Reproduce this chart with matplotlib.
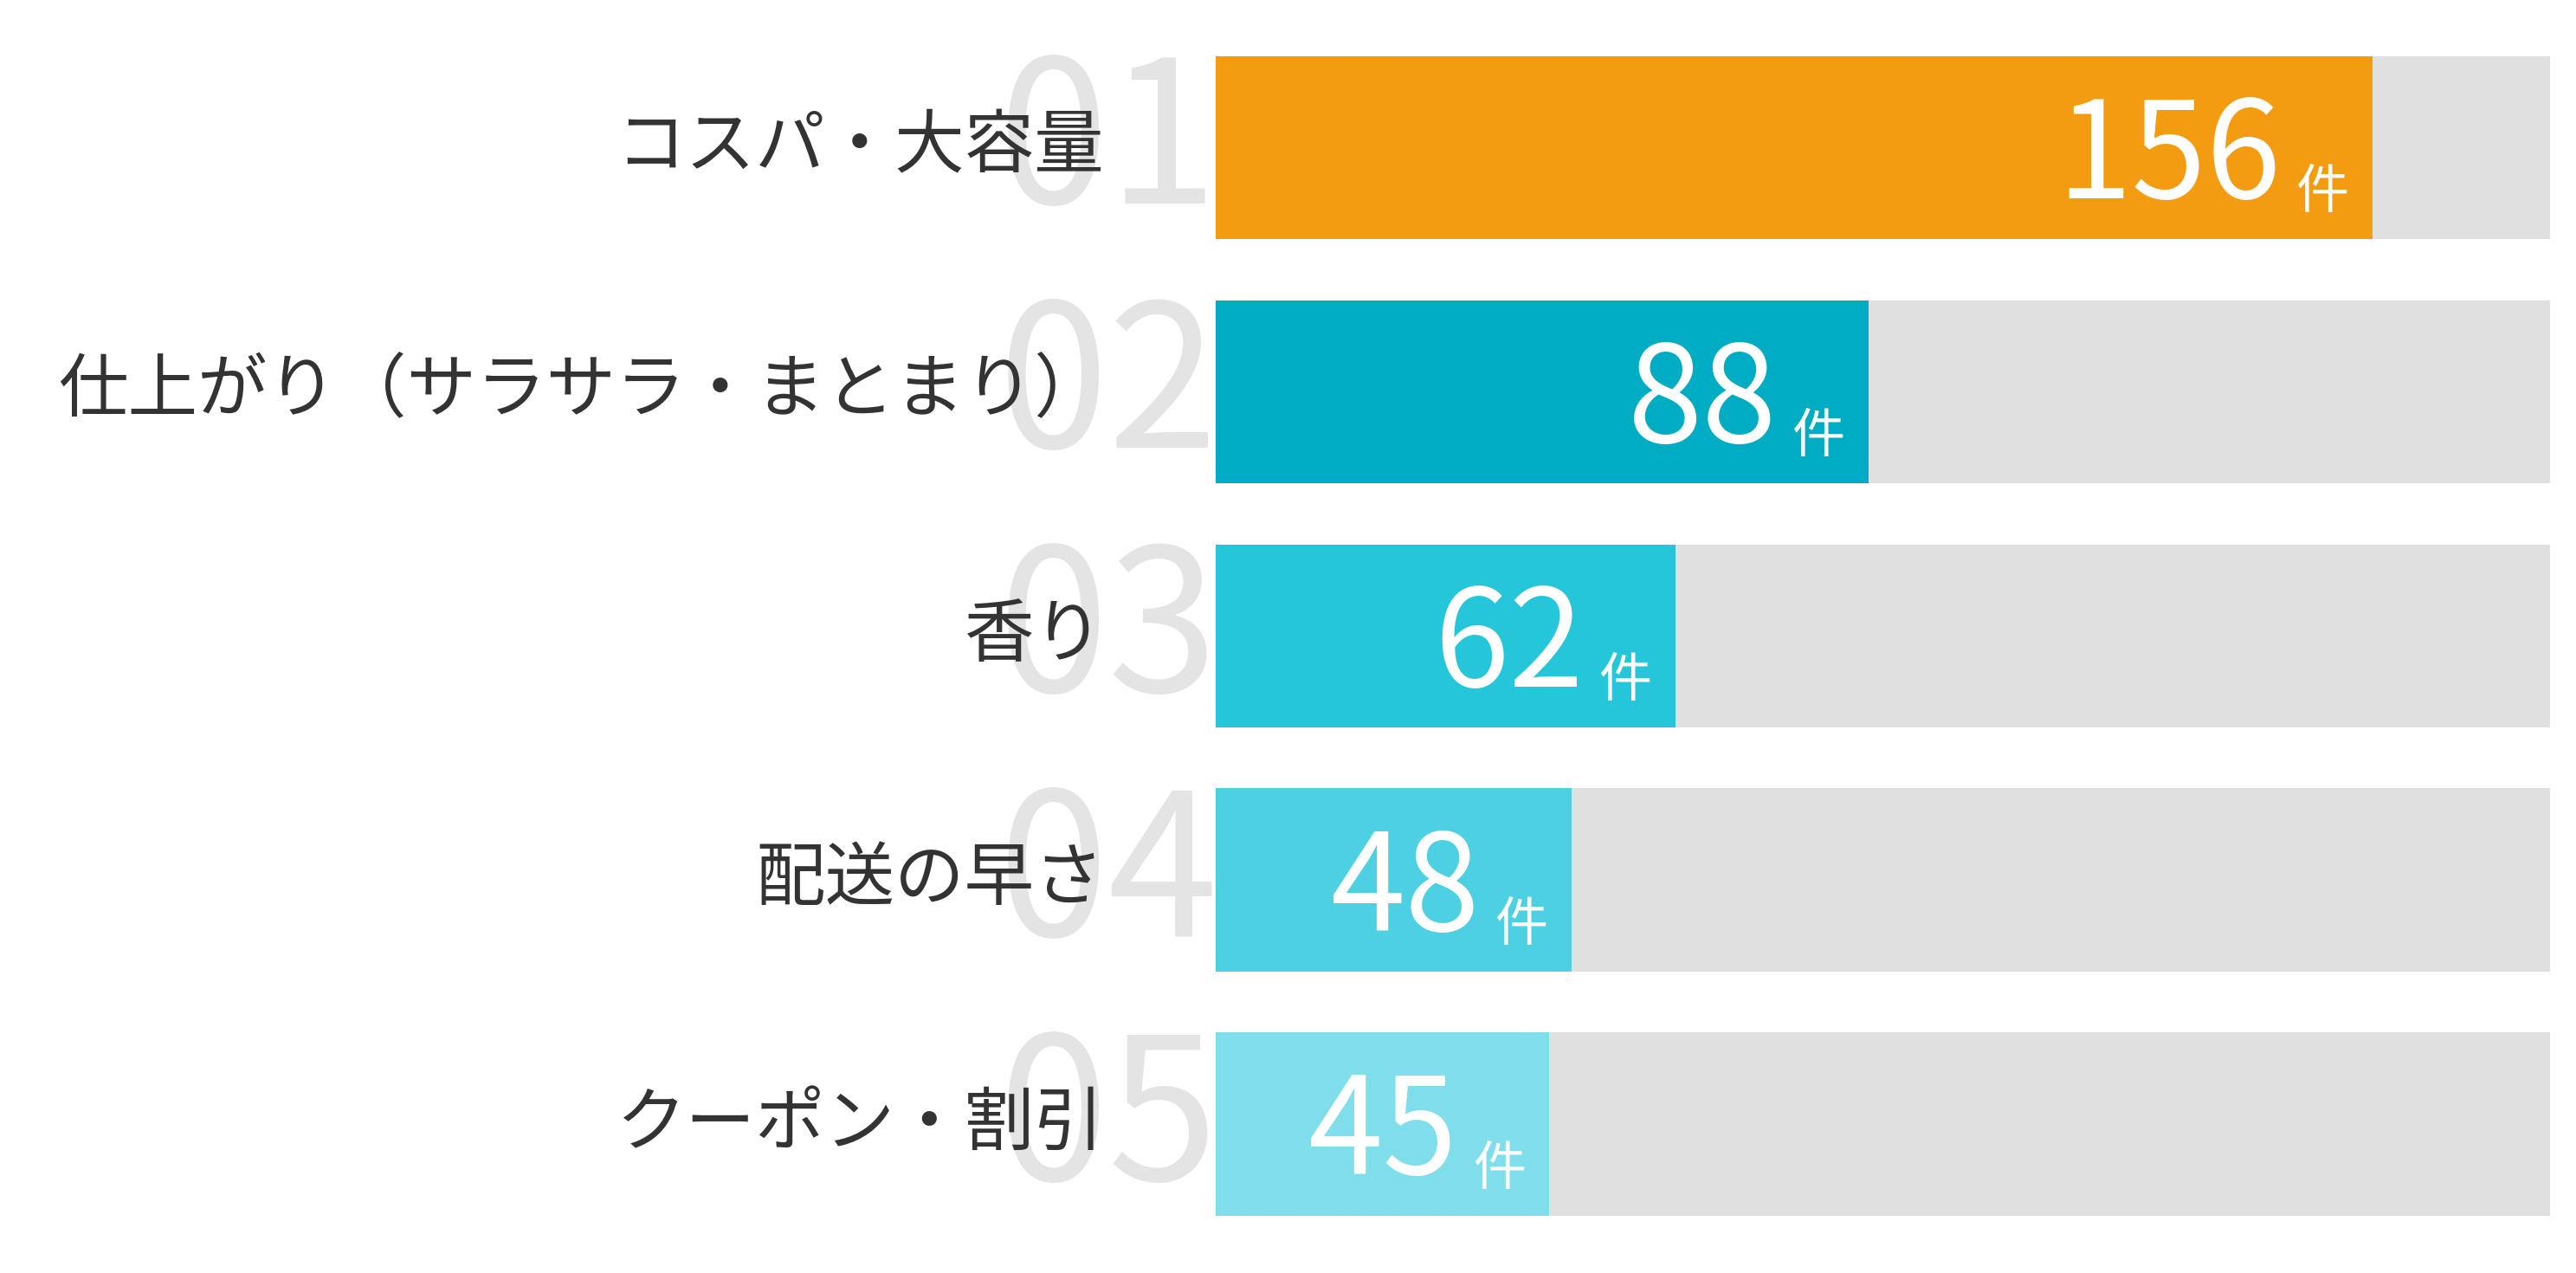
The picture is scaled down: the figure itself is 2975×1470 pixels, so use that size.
import matplotlib
matplotlib.use("Agg")
import matplotlib.pyplot as plt
from matplotlib.transforms import offset_copy

plt.rcParams['font.family'] = ['Noto Sans CJK JP', 'DejaVu Sans']

# data
labels = ["コスパ・大容量", "仕上がり（サラサラ・まとまり）", "香り", "配送の早さ", "クーポン・割引"]
ranks = ["01", "02", "03", "04", "05"]
counts = [156, 88, 62, 48, 45]
unit = "件"
axis_max = 180
colors = ["#F39C12", "#00ACC1", "#26C6DA", "#4DD0E1", "#80DEEA"]

fig = plt.figure(figsize=(29.75, 14.7), dpi=100)
ax = fig.add_axes([0.472, 0.045, 0.518, 0.911])
ypos = list(range(len(counts)))

ax.barh(ypos, [axis_max] * len(counts), height=0.75, color="#E0E0E0", zorder=1)
ax.barh(ypos, counts, height=0.75, color=colors, zorder=2)
ax.set_xlim(0, axis_max)
ax.set_ylim(4.375, -0.375)
ax.axis("off")

ytr = ax.get_yaxis_transform()
for i in ypos:
    # big faded rank number behind the label
    ax.text(0.002, i, ranks[i], transform=ytr, ha="right", va="center",
            fontsize=165, color="#E4E4E4", fontweight="normal",
            zorder=0, clip_on=False)
    ax.text(-0.084, i, labels[i], transform=ytr, ha="right", va="center",
            fontsize=58, color="#333333", zorder=3, clip_on=False)
    # value + unit inside bar end
    t1 = offset_copy(ax.transData, fig=fig, x=-20, y=-50, units="points")
    ax.text(counts[i], i, unit, transform=t1, ha="right", va="baseline",
            fontsize=44, color="white", zorder=4)
    t2 = offset_copy(ax.transData, fig=fig, x=-76, y=-42, units="points")
    ax.text(counts[i], i, str(counts[i]), transform=t2, ha="right", va="baseline",
            fontsize=112, color="white", zorder=4)

plt.savefig("out.png", dpi=100)
plt.close()
